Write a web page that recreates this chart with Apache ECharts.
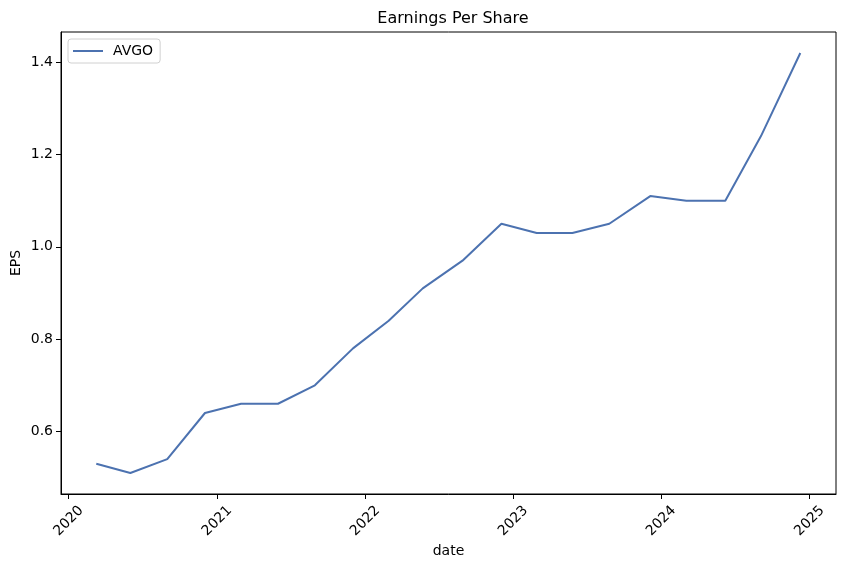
<!DOCTYPE html>
<html>
<head>
<meta charset="utf-8">
<script src="https://cdn.jsdelivr.net/npm/echarts@6/dist/echarts.min.js"></script>
<style>html,body{margin:0;padding:0;background:#fff;}#main{width:846px;height:568px;}</style>
</head>
<body>
<div id="main"></div>
<script>
var dates = ['2020-03-09','2020-06-01','2020-08-31','2020-12-02',
             '2021-03-01','2021-05-31','2021-08-30','2021-12-02',
             '2022-02-28','2022-05-23','2022-08-29','2022-12-03',
             '2023-02-28','2023-05-27','2023-08-26','2023-12-05',
             '2024-03-03','2024-06-07','2024-09-03','2024-12-09'];
var eps = [0.53,0.51,0.54,0.64,
           0.66,0.66,0.70,0.78,
           0.84,0.91,0.97,1.05,
           1.03,1.03,1.05,1.11,
           1.10,1.10,1.24,1.42];
var seriesName = 'AVGO';
var yearTicks = [2020,2021,2022,2023,2024,2025];
var yTicks = [0.6,0.8,1.0,1.2,1.4];
var xMinDate = '2019-12-13';
var xMaxDate = '2025-03-07';
var yMin = 0.4645, yMax = 1.4655;

function ts(s){ var p = s.split('-'); return Date.UTC(+p[0], +p[1]-1, +p[2]); }
var yearTs = yearTicks.map(function(y){ return Date.UTC(y,0,1); });
var FONT = 'DejaVu Sans';
var chart = echarts.init(document.getElementById('main'), null, {renderer:'canvas'});
chart.setOption({
  animation: false,
  backgroundColor: '#fff',
  textStyle: {fontFamily: FONT},
  title: {
    text: 'Earnings Per Share', left: 448, top: 6, textAlign: 'center',
    textStyle: {fontFamily: FONT, fontSize: 16, fontWeight: 'normal', color: '#000'}
  },
  legend: {
    left: 68, top: 39, orient: 'vertical',
    icon: 'rect', itemWidth: 30, itemHeight: 2,
    padding: [5, 7, 5, 5],
    borderColor: '#d0d0d0', borderWidth: 1, borderRadius: 3,
    backgroundColor: '#fff',
    textStyle: {fontFamily: FONT, fontSize: 14, color: '#000', padding: [0,0,0,5]},
    data: [seriesName]
  },
  grid: {left: 61, right: 10, top: 32, bottom: 74, outerBoundsMode: 'none', containLabel: false,
    show: true, borderColor: '#000', borderWidth: 1, backgroundColor: 'transparent'},
  xAxis: {
    type: 'value',
    min: ts(xMinDate), max: ts(xMaxDate),
    name: 'date', nameLocation: 'middle', nameGap: 50, nameMoveOverlap: false,
    nameTextStyle: {fontFamily: FONT, fontSize: 14, color: '#000'},
    axisLine: {show: true, lineStyle: {color: '#000', width: 1}},
    axisTick: {show: true, length: 5, lineStyle: {color: '#000'}, customValues: yearTs},
    axisLabel: {
      customValues: yearTs,
      formatter: function(v){ return String(new Date(v).getUTCFullYear()); },
      rotate: 45, align: 'center', verticalAlign: 'middle', margin: 27,
      fontFamily: FONT, fontSize: 14, color: '#000'
    },
    splitLine: {show: false}
  },
  yAxis: {
    type: 'value', min: yMin, max: yMax,
    name: 'EPS', nameLocation: 'middle', nameGap: 38, nameMoveOverlap: false,
    nameTextStyle: {fontFamily: FONT, fontSize: 14, color: '#000'},
    axisLine: {show: true, lineStyle: {color: '#000', width: 1}},
    axisTick: {show: true, length: 5, lineStyle: {color: '#000'}, customValues: yTicks},
    axisLabel: {customValues: yTicks, formatter: function(v){ return v.toFixed(1); },
      margin: 8, fontFamily: FONT, fontSize: 14, color: '#000'},
    splitLine: {show: false}
  },
  series: [{
    name: seriesName, type: 'line', showSymbol: false, symbol: 'none',
    lineStyle: {color: '#4c72b0', width: 2},
    itemStyle: {color: '#4c72b0'},
    data: dates.map(function(d,i){ return [ts(d), eps[i]]; })
  }]
});
</script>
</body>
</html>
